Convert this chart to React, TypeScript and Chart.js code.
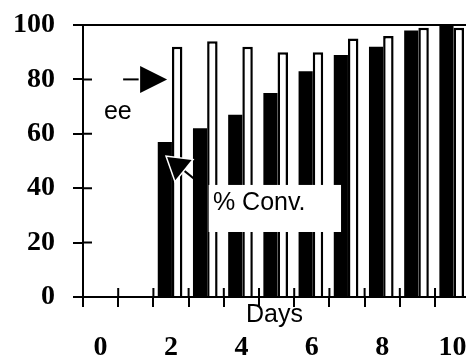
import { useEffect, useRef } from 'react';
import { Chart, registerables } from 'chart.js';

Chart.register(...registerables);

// ---- data ----
const days = [2, 3, 4, 5, 6, 7, 8, 9, 10];
const conversion = [57, 62, 67, 75, 83, 89, 92, 98, 100];
const enantiomericExcess = [92, 94, 92, 90, 90, 95, 96, 99, 99];
const dayLabels = [0, 2, 4, 6, 8, 10];
const dayBoundaries = [-0.5, 0.5, 1.5, 2.5, 3.5, 4.5, 5.5, 6.5, 7.5, 8.5, 9.5];
const yTicks = [0, 20, 40, 60, 80, 100];

// annotations, in data units
const eeText = { text: 'ee', x: 0.49, y: 68 };
const eeArrow = { fromX: 0.64, fromY: 80, toX: 1.89, toY: 80 };
const convBox = { x0: 3.07, x1: 6.83, y0: 41.2, y1: 23.9 };
const convText = { text: '% Conv.', x: 3.19, y: 34.5 };
const convArrow = { fromX: 2.91, fromY: 40.8, toX: 1.89, toY: 51.5 };

const X_MIN = -0.5;
const X_MAX = 10.38;

const SERIF = "'Liberation Serif', 'Times New Roman', serif";
const SANS = "'Liberation Sans', Arial, sans-serif";

function drawArrow(ctx: CanvasRenderingContext2D, x1: number, y1: number, x2: number, y2: number, headLen: number, headHalf: number) {
  const dx = x2 - x1;
  const dy = y2 - y1;
  const len = Math.hypot(dx, dy);
  const ux = dx / len;
  const uy = dy / len;
  const bx = x2 - ux * headLen;
  const by = y2 - uy * headLen;
  const px = -uy;
  const py = ux;
  ctx.save();
  ctx.strokeStyle = '#000';
  ctx.lineWidth = 2;
  ctx.beginPath();
  ctx.moveTo(x1, y1);
  ctx.lineTo(bx, by);
  ctx.stroke();
  ctx.beginPath();
  ctx.moveTo(x2, y2);
  ctx.lineTo(bx + px * headHalf, by + py * headHalf);
  ctx.lineTo(bx - px * headHalf, by - py * headHalf);
  ctx.closePath();
  ctx.strokeStyle = '#fff';
  ctx.lineWidth = 3;
  ctx.stroke();
  ctx.fillStyle = '#000';
  ctx.fill();
  ctx.restore();
}

const innerTicks = {
  id: 'innerTicks',
  afterDatasetsDraw(chart: any) {
    const { ctx, chartArea } = chart;
    const ys = chart.scales.y;
    const xs = chart.scales.x;
    ctx.save();
    ctx.strokeStyle = '#000';
    ctx.lineWidth = 2;
    ctx.beginPath();
    ys.ticks.forEach((t: any) => {
      const p = ys.getPixelForValue(t.value);
      ctx.moveTo(chartArea.left, p);
      ctx.lineTo(chartArea.left + 9, p);
    });
    xs.ticks.forEach((t: any) => {
      const p = xs.getPixelForValue(t.value);
      ctx.moveTo(p, chartArea.bottom);
      ctx.lineTo(p, chartArea.bottom - 9);
    });
    ctx.stroke();
    ctx.restore();
  },
};

const annotations = {
  id: 'annotations',
  afterDatasetsDraw(chart: any) {
    const { ctx } = chart;
    const xs = chart.scales.x;
    const ys = chart.scales.y;
    const X = (v: number) => xs.getPixelForValue(v);
    const Y = (v: number) => ys.getPixelForValue(v);

    // % Conv. box
    ctx.save();
    ctx.fillStyle = '#fff';
    ctx.fillRect(X(convBox.x0), Y(convBox.y0), X(convBox.x1) - X(convBox.x0), Y(convBox.y1) - Y(convBox.y0));
    ctx.fillStyle = '#000';
    ctx.font = `25px ${SANS}`;
    ctx.textBaseline = 'middle';
    ctx.textAlign = 'left';
    ctx.fillText(convText.text, X(convText.x), Y(convText.y));
    ctx.textAlign = 'center';
    ctx.fillText(eeText.text, X(eeText.x), Y(eeText.y));
    ctx.restore();

    drawArrow(ctx, X(eeArrow.fromX), Y(eeArrow.fromY), X(eeArrow.toX), Y(eeArrow.toY), 27, 13.5);
    drawArrow(ctx, X(convArrow.fromX), Y(convArrow.fromY), X(convArrow.toX), Y(convArrow.toY), 21, 13);
  },
};

const noPadding = (s: any) => {
  s.paddingTop = 0;
  s.paddingBottom = 0;
  s.paddingLeft = 0;
  s.paddingRight = 0;
};

export default function App() {
  const ref = useRef<HTMLCanvasElement>(null);

  useEffect(() => {
    if (!ref.current) return;
    const chart = new Chart(ref.current, {
      type: 'bar',
      data: {
        datasets: [
          {
            label: '% Conv.',
            data: days.map((d, i) => ({ x: d, y: conversion[i] })),
            backgroundColor: '#000',
            borderWidth: 0,
            categoryPercentage: 0.7,
            barPercentage: 1.15,
          },
          {
            label: 'ee',
            data: days.map((d, i) => ({ x: d, y: enantiomericExcess[i] })),
            backgroundColor: '#fff',
            borderColor: '#000',
            borderWidth: 2.5,
            categoryPercentage: 0.7,
            barPercentage: 0.85,
          },
        ],
      },
      options: {
        responsive: false,
        animation: false,
        layout: { padding: { left: 13, top: 25, right: 0, bottom: 0 } },
        plugins: { legend: { display: false }, tooltip: { enabled: false } },
        scales: {
          x: {
            type: 'linear',
            position: 'bottom',
            weight: 0,
            min: X_MIN,
            max: X_MAX,
            offset: false,
            afterBuildTicks: (s: any) => {
              s.ticks = dayBoundaries.map((v) => ({ value: v }));
            },
            afterFit: noPadding,
            ticks: { display: false },
            grid: {
              display: true,
              offset: false,
              drawOnChartArea: false,
              drawTicks: true,
              tickLength: 10,
              tickColor: '#000',
              lineWidth: 2,
            },
            border: { display: true, color: '#000', width: 2 },
            title: {
              display: true,
              text: 'Days',
              color: '#000',
              font: { family: SANS, size: 25 },
              padding: { top: -7, bottom: 0 },
            },
          },
          xLabels: {
            type: 'linear',
            position: 'bottom',
            weight: 1,
            min: X_MIN,
            max: X_MAX,
            offset: false,
            afterBuildTicks: (s: any) => {
              s.ticks = dayLabels.map((v) => ({ value: v }));
            },
            afterFit: (s: any) => {
              noPadding(s);
              s.height = 28;
            },
            ticks: {
              color: '#000',
              font: { family: SERIF, size: 28, weight: 'bold', lineHeight: 1 },
              padding: 4,
              maxRotation: 0,
              autoSkip: false,
              callback: (v: any) => String(v),
            },
            grid: { display: false, drawTicks: false },
            border: { display: false },
          },
          y: {
            type: 'linear',
            min: 0,
            max: 100,
            afterBuildTicks: (s: any) => {
              s.ticks = yTicks.map((v) => ({ value: v }));
            },
            afterFit: (s: any) => {
              noPadding(s);
              s.width = 70;
            },
            ticks: {
              color: '#000',
              font: { family: SERIF, size: 28, weight: 'bold' },
              padding: 18,
              callback: (v: any) => String(v),
            },
            grid: {
              display: true,
              drawOnChartArea: true,
              drawTicks: true,
              tickLength: 10,
              tickColor: '#000',
              lineWidth: 2,
              color: (c: any) => (c.tick && c.tick.value === 100 ? '#000' : 'rgba(0,0,0,0)'),
            },
            border: { display: true, color: '#000', width: 2 },
          },
        },
      },
      plugins: [innerTicks, annotations],
    } as any);
    return () => chart.destroy();
  }, []);

  return (
    <div style={{ position: 'fixed', left: 0, top: 0, width: 466, height: 358, background: '#fff' }}>
      <canvas ref={ref} width={466} height={358} style={{ display: 'block' }} />
    </div>
  );
}
